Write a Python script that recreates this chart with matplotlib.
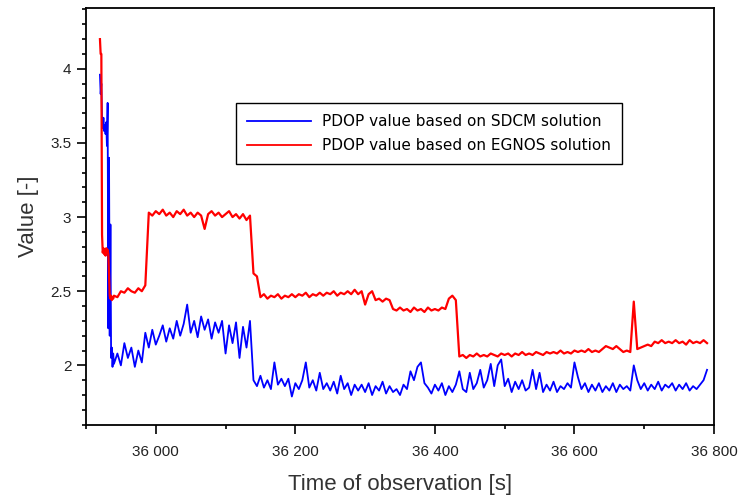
import numpy as np
import matplotlib
matplotlib.use("Agg")
import matplotlib.pyplot as plt
from matplotlib.ticker import MultipleLocator, FuncFormatter

# sampling: 1 s at the start, then 5 s
t_start = list(range(35920, 35941))
t_main = list(range(35945, 36795, 5))

sdcm_start = [3.96, 3.83, 3.90, 3.66, 3.60, 3.67, 3.58, 3.62, 3.56, 3.64,
              3.48, 3.77, 2.25, 3.40, 2.20, 2.95, 2.05, 2.12, 1.99, 2.08, 2.01]
egnos_start = [4.20, 4.10, 4.10, 2.88, 2.76, 2.79, 2.75, 2.78, 2.74, 2.79,
               2.76, 2.78, 2.75, 2.60, 2.47, 2.45, 2.47, 2.44, 2.46, 2.45, 2.47]

sdcm_main = [
    2.08, 2.00, 2.15, 2.05, 2.12, 1.99, 2.10, 2.02, 2.22, 2.12,
    2.24, 2.14, 2.20, 2.27, 2.16, 2.25, 2.18, 2.30, 2.20, 2.28,
    2.41, 2.22, 2.30, 2.19, 2.33, 2.24, 2.31, 2.18, 2.29, 2.22,
    2.30, 2.08, 2.27, 2.15, 2.29, 2.05, 2.26, 2.12, 2.30, 1.90,
    1.86, 1.93, 1.85, 1.90, 1.84, 2.02, 1.87, 1.91, 1.86, 1.91,
    1.79, 1.88, 1.84, 1.90, 2.02, 1.85, 1.90, 1.83, 1.95, 1.84,
    1.88, 1.83, 1.89, 1.81, 1.93, 1.84, 1.88, 1.80, 1.87, 1.83,
    1.87, 1.82, 1.88, 1.80, 1.86, 1.83, 1.89, 1.81, 1.86, 1.82,
    1.84, 1.80, 1.87, 1.84, 1.96, 1.90, 1.99, 2.02, 1.88, 1.85,
    1.81, 1.87, 1.83, 1.88, 1.80, 1.86, 1.82, 1.87, 1.96, 1.84,
    1.82, 1.95, 1.84, 1.88, 1.97, 1.85, 1.90, 2.01, 1.86, 2.00,
    2.04, 1.86, 1.91, 1.82, 1.89, 1.84, 1.90, 1.83, 1.85, 1.97,
    1.84, 1.95, 1.82, 1.87, 1.83, 1.89, 1.82, 1.86, 1.84, 1.88,
    1.85, 2.02, 1.92, 1.84, 1.88, 1.82, 1.87, 1.83, 1.88, 1.82,
    1.86, 1.83, 1.88, 1.82, 1.87, 1.84, 1.86, 1.83, 2.00, 1.90,
    1.84, 1.88, 1.83, 1.87, 1.84, 1.89, 1.83, 1.87, 1.85, 1.88,
    1.83, 1.87, 1.84, 1.88, 1.83, 1.86, 1.84, 1.87, 1.90, 1.97,
]

egnos_main = [
    2.46, 2.50, 2.49, 2.52, 2.50, 2.49, 2.52, 2.50, 2.54, 3.03,
    3.01, 3.04, 3.02, 3.05, 3.01, 3.03, 3.00, 3.04, 3.02, 3.05,
    3.01, 3.03, 3.00, 3.03, 3.01, 2.92, 3.02, 3.04, 3.01, 3.03,
    3.00, 3.02, 3.04, 3.00, 3.02, 2.99, 3.02, 2.98, 3.01, 2.62,
    2.60, 2.46, 2.48, 2.45, 2.47, 2.46, 2.48, 2.45, 2.47, 2.46,
    2.48, 2.46, 2.48, 2.47, 2.49, 2.46, 2.48, 2.47, 2.49, 2.47,
    2.49, 2.48, 2.50, 2.47, 2.49, 2.48, 2.50, 2.48, 2.51, 2.48,
    2.50, 2.41, 2.48, 2.50, 2.44, 2.45, 2.43, 2.45, 2.44, 2.38,
    2.37, 2.39, 2.37, 2.38, 2.36, 2.39, 2.37, 2.38, 2.36, 2.39,
    2.37, 2.38, 2.37, 2.39, 2.38, 2.45, 2.47, 2.44, 2.06, 2.07,
    2.05, 2.07, 2.06, 2.08, 2.06, 2.07, 2.06, 2.08, 2.07, 2.06,
    2.08, 2.07, 2.08, 2.06, 2.08, 2.07, 2.09, 2.07, 2.08, 2.07,
    2.09, 2.08, 2.07, 2.09, 2.08, 2.09, 2.08, 2.10, 2.08, 2.09,
    2.08, 2.10, 2.09, 2.10, 2.09, 2.11, 2.09, 2.10, 2.09, 2.11,
    2.13, 2.12, 2.11, 2.13, 2.11, 2.09, 2.10, 2.09, 2.43, 2.11,
    2.12, 2.13, 2.14, 2.13, 2.16, 2.15, 2.17, 2.15, 2.16, 2.15,
    2.17, 2.15, 2.16, 2.14, 2.17, 2.15, 2.16, 2.15, 2.17, 2.15,
]

t = np.array(t_start + t_main)
sdcm = np.array(sdcm_start + sdcm_main)
egnos = np.array(egnos_start + egnos_main)

fig = plt.figure(figsize=(7.42, 4.97), dpi=100)
ax = fig.add_axes([0.1159, 0.1449, 0.8464, 0.8384])

ax.plot(t, sdcm, color="#0000ff", lw=1.3, label="PDOP value based on SDCM solution")
ax.plot(t, egnos, color="#ff0000", lw=1.6, label="PDOP value based on EGNOS solution")

ax.set_xlim(35900, 36800)
ax.set_ylim(1.598, 4.408)

ax.xaxis.set_major_locator(MultipleLocator(200))
ax.xaxis.set_minor_locator(MultipleLocator(100))
ax.yaxis.set_major_locator(MultipleLocator(0.5))
ax.yaxis.set_minor_locator(MultipleLocator(0.1))
ax.xaxis.set_major_formatter(FuncFormatter(lambda v, p: f"{int(round(v)):,}".replace(",", " ")))
ax.yaxis.set_major_formatter(FuncFormatter(lambda v, p: f"{v:g}"))

ax.tick_params(which="both", direction="out", top=False, right=False,
               labelsize=11, width=1.2, color="black", labelcolor="#222222")
ax.tick_params(which="major", length=6.5)
ax.tick_params(which="minor", length=2.9)
ax.tick_params(axis="x", which="major", pad=8)
ax.tick_params(axis="y", which="major", pad=4)
for lab in ax.get_xticklabels() + ax.get_yticklabels():
    lab.set_family("Liberation Sans")
for s in ax.spines.values():
    s.set_linewidth(1.3)

ax.set_xlabel("Time of observation [s]", fontsize=16, family="Liberation Sans",
              color="#333333", labelpad=11)
ax.set_ylabel("Value [-]", fontsize=16, family="Liberation Sans",
              color="#333333", labelpad=8)

leg = ax.legend(loc="upper left", bbox_to_anchor=(0.2389, 0.7727), borderaxespad=0,
                prop={"family": "DejaVu Sans", "size": 11},
                frameon=True, fancybox=False, edgecolor="black", framealpha=1,
                handlelength=4.2, handletextpad=0.7, borderpad=0.72, labelspacing=0.6)
leg.get_frame().set_linewidth(1.0)
for h in leg.get_lines():
    h.set_linewidth(1.3)

fig.savefig("out.png", dpi=100)
